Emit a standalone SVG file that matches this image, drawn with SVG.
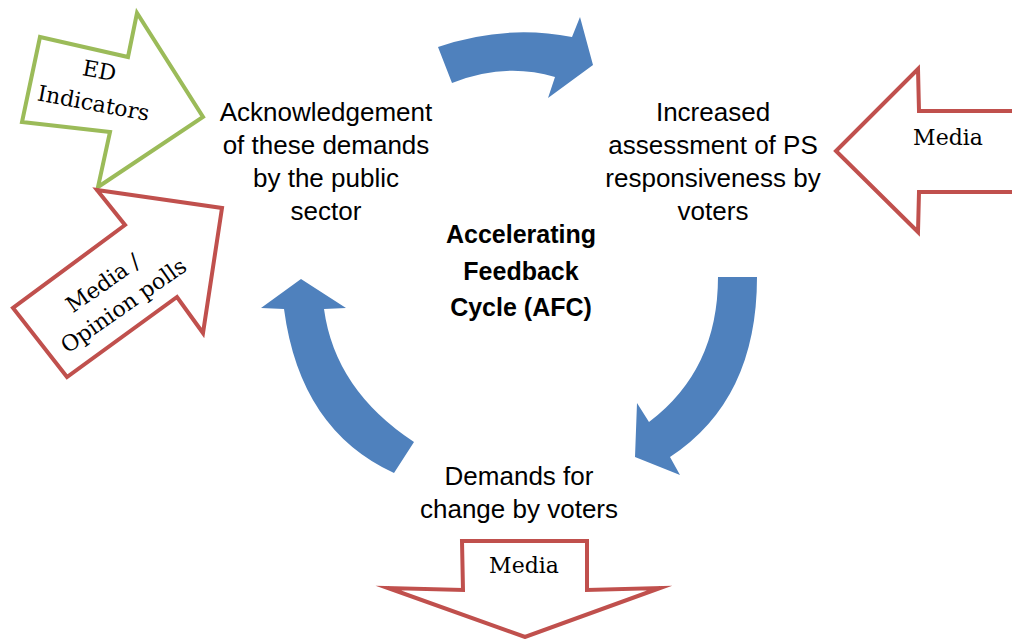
<svg xmlns="http://www.w3.org/2000/svg" width="1012" height="639" viewBox="0 0 1012 639">
<style>
.blue{fill:#4F81BD;stroke:none}
.red{fill:#fff;stroke:#C0504D;stroke-width:4;stroke-linejoin:miter;stroke-miterlimit:10}
.green{fill:#fff;stroke:#9BBB59;stroke-width:4;stroke-linejoin:miter;stroke-miterlimit:10}
.lbl{font-family:"Liberation Sans",Arial,sans-serif;font-size:26px;fill:#000;text-anchor:middle}
.bold{font-family:"Liberation Sans",Arial,sans-serif;font-size:25px;font-weight:bold;fill:#000;text-anchor:middle}
.ser{font-family:"DejaVu Serif","Liberation Serif",serif;font-size:22px;fill:#000;text-anchor:middle}
</style>
<rect width="1012" height="639" fill="#fff"/>
<g id="connectors">
<path class="blue" d="M438 47 Q505 24 572 37 L580 17 L593 65 L548 98 L555 77 Q505 62 452 83 Z"/>
<path class="blue" d="M718 277 L757 277 Q757 400 670 457 L680 475 L635 457 L637 403 L649 422 Q718 370 718 277 Z"/>
<path class="blue" d="M301 279 L346 308 L324 309 Q335 390 414 442 L394 473 Q300 430 284 309 L261 308 Z"/>
</g>
<g id="ed-indicators">
<polygon class="green" points="40,37 128,57 137,13 203,117 98,187 110,132 22,122"/>
<g transform="translate(96.5,87) rotate(10.5)">
<text class="ser" x="0" y="-9">ED</text>
<text class="ser" x="0" y="24">Indicators</text>
</g>
</g>
<g id="media-opinion-polls">
<polygon class="red" points="97,190 222,208 203,333 177,297 67,377 13,308 125,225"/>
<g transform="translate(113,294) rotate(-35)">
<text class="ser" x="-2" y="-7">Media /</text>
<text class="ser" x="2" y="23">Opinion polls</text>
</g>
</g>
<g id="media-right">
<polygon class="red" points="1016,111 919,111 918,69 836,151 918,232 919,192 1016,192"/>
<text class="ser" x="948" y="145">Media</text>
</g>
<g id="media-bottom">
<polygon class="red" points="462,541 587,541 587,590 660,588 525,637 388,588 463,590"/>
<text class="ser" x="524" y="573">Media</text>
</g>
<g id="acknowledgement">
<text class="lbl" x="326" y="121">Acknowledgement</text>
<text class="lbl" x="326" y="154">of these demands</text>
<text class="lbl" x="326" y="187">by the public</text>
<text class="lbl" x="326" y="220">sector</text>
</g>
<g id="increased-assessment">
<text class="lbl" x="713" y="121">Increased</text>
<text class="lbl" x="713" y="154">assessment of PS</text>
<text class="lbl" x="713" y="187">responsiveness by</text>
<text class="lbl" x="713" y="220">voters</text>
</g>
<g id="afc">
<text class="bold" x="521" y="243">Accelerating</text>
<text class="bold" x="521" y="280">Feedback</text>
<text class="bold" x="521" y="316">Cycle (AFC)</text>
</g>
<g id="demands">
<text class="lbl" x="519" y="485">Demands for</text>
<text class="lbl" x="519" y="518">change by voters</text>
</g>
</svg>
